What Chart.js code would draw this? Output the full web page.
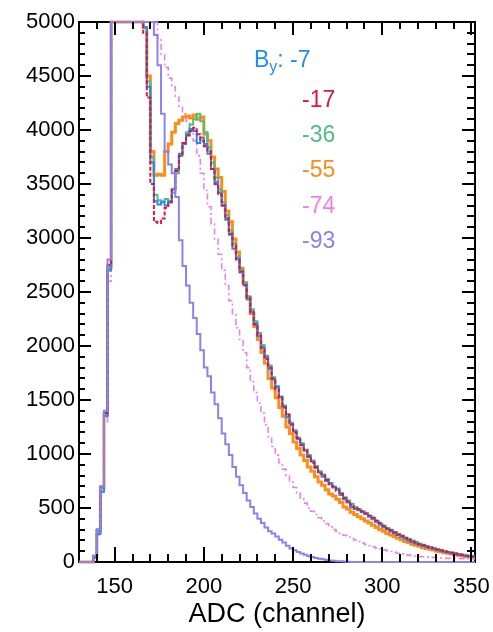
<!DOCTYPE html>
<html><head><meta charset="utf-8">
<script src="https://cdn.jsdelivr.net/npm/chart.js@4/dist/chart.umd.min.js"></script>
<style>html,body{margin:0;padding:0;background:#fff;}#wrap{width:493px;height:632px;position:relative;}</style>
</head><body><div id="wrap"><canvas id="c" width="493" height="632"></canvas></div>
<script>
// ADC bin starts (channel), bin width 2
const adcBins = [
130,132,134,136,138,140,142,144,146,148,
150,152,154,156,158,160,162,164,166,168,
170,172,174,176,178,180,182,184,186,188,
190,192,194,196,198,200,202,204,206,208,
210,212,214,216,218,220,222,224,226,228,
230,232,234,236,238,240,242,244,246,248,
250,252,254,256,258,260,262,264,266,268,
270,272,274,276,278,280,282,284,286,288,
290,292,294,296,298,300,302,304,306,308,
310,312,314,316,318,320,322,324,326,328,
330,332,334,336,338,340,342,344,346,348,
350];
const adcEnd = 352;

const byLabels = ['-7','-17','-36','-55','-74','-93'];

const counts_m7 = [
0,0,0,0,40,260,650,1350,2700,5000,
5000,5000,5000,5000,5000,5000,5000,5000,4950,4400,
3700,3340,3310,3330,3300,3340,3450,3640,3780,3870,
3960,4010,3990,3880,3930,3870,3780,3640,3520,3420,
3300,3170,3030,2900,2810,2680,2570,2430,2320,2210,
2090,1990,1900,1790,1690,1620,1530,1440,1340,1280,
1210,1140,1090,1030,970,930,870,830,790,750,
730,690,680,620,580,550,510,490,480,460,
445,420,395,370,345,325,305,285,265,250,
232,215,200,185,172,160,150,140,132,122,
112,104,96,88,82,75,68,62,55,50,
47];
const counts_m17 = [
0,0,0,0,50,300,700,1380,2750,5000,
5000,5000,5000,5000,5000,5000,5000,5000,4900,4300,
3500,3150,3140,3180,3280,3330,3460,3620,3760,3880,
3950,3990,4020,3960,3900,3850,3800,3640,3500,3400,
3300,3180,3040,2930,2800,2690,2560,2450,2310,2200,
2100,1980,1880,1800,1700,1600,1520,1430,1360,1270,
1200,1150,1080,1040,980,920,880,820,800,760,
720,700,660,630,590,560,530,500,490,470,
450,430,410,385,360,335,310,295,275,255,
240,222,205,192,180,165,155,142,135,125,
115,106,100,92,86,78,71,66,58,55,
50];
const counts_m36 = [
0,0,0,0,45,280,680,1360,2720,5000,
5000,5000,5000,5000,5000,5000,5000,5000,4950,4450,
3750,3400,3350,3340,3360,3330,3420,3600,3760,3880,
3980,4050,4100,4150,4080,3980,3840,3700,3560,3450,
3330,3210,3070,2950,2830,2710,2590,2460,2340,2230,
2120,2010,1910,1820,1710,1630,1530,1450,1370,1290,
1220,1150,1100,1040,990,940,890,840,810,770,
730,700,670,640,600,570,540,510,490,470,
455,425,405,380,355,335,315,298,278,262,
245,228,212,198,186,172,160,148,140,130,
118,110,101,95,88,80,74,68,62,56,
52];
const counts_m55 = [
0,0,0,0,50,290,690,1370,2730,5000,
5000,5000,5000,5000,5000,5000,5000,5000,4950,4500,
3800,3580,3590,3580,3800,3870,3980,4060,4090,4120,
4130,4110,4140,4100,4120,3960,3900,3750,3640,3560,
3430,3250,3150,2990,2870,2720,2580,2450,2300,2180,
2060,1940,1840,1700,1610,1520,1430,1350,1250,1190,
1110,1050,990,940,880,840,790,740,710,670,
630,610,580,550,510,490,460,440,420,400,
380,360,340,320,300,285,265,250,235,220,
205,190,180,165,155,145,135,125,118,110,
100,94,86,80,74,68,62,58,52,48,
44];
const counts_m74 = [
0,0,0,0,40,250,650,1300,2600,5000,
5000,5000,5000,5000,5000,5000,5000,5000,5000,5000,
5000,5000,4850,4700,4580,4480,4400,4310,4210,4150,
4080,4010,3900,3760,3600,3440,3290,3130,2990,2850,
2700,2560,2420,2300,2170,2060,1940,1800,1670,1570,
1470,1380,1270,1160,1070,990,920,860,800,740,
690,640,590,545,500,470,440,410,380,355,
325,300,282,265,248,232,218,204,190,176,
163,152,141,131,122,113,105,97,89,81,
75,69,64,59,55,51,48,45,43,41,
39,37,36,35,34,33,32,31,30,30,
29];
const counts_m93 = [
0,0,0,0,60,300,700,1400,2800,5000,
5000,5000,5000,5000,5000,5000,5000,5000,5000,5000,
5000,4880,4600,4150,3800,3680,3600,3380,2980,2740,
2560,2400,2260,2110,1960,1800,1720,1570,1460,1330,
1190,1090,990,880,790,710,640,570,510,450,
400,360,320,285,265,235,205,180,150,125,
108,92,78,66,54,46,38,31,25,19,
15,11,8,6,4,2,0,0,0,0,
0,0,0,0,0,0,0,0,0,0,
0,0,0,0,0,0,0,0,0,0,
0,0,0,0,0,0,0,0,0,0,
0];

const xLabelTicks = [150,200,250,300,350];
const yLabelTicks = [0,500,1000,1500,2000,2500,3000,3500,4000,4500,5000];

const colors = {'-7':'#1e8ff5','-17':'#e3123f','-36':'#4fbd84','-55':'#ff8c14','-74':'#ee80ee','-93':'#8a82f2'};

function pts(arr){
  const p = adcBins.map((x,i)=>({x:x, y:arr[i]}));
  p.push({x:adcEnd, y:arr[arr.length-1]});
  return p;
}
function makeSet(label, arr, width, dash){
  return {label:label, data:pts(arr), borderColor:colors[label], borderWidth:width,
    borderDash:dash||[], stepped:true, pointRadius:0, fill:false, clip:4};
}

const datasets = [
  makeSet('-93', counts_m93, 2),
  makeSet('-17', counts_m17, 2, [4,2]),
  makeSet('-7',  counts_m7, 2),
  makeSet('-36', counts_m36, 2),
  makeSet('-55', counts_m55, 3),
  makeSet('-74', counts_m74, 1.6, [6,3,2,3])
];

function drawTickMarks(chart){
  const ctx = chart.ctx, a = chart.chartArea;
  const sx = chart.scales.x, sy = chart.scales.y;
  ctx.save();
  ctx.globalAlpha = 1;
  ctx.globalCompositeOperation = 'source-over';
  ctx.fillStyle = '#000';
  for (let v=140; v<=350; v+=10){
    const px = Math.round(sx.getPixelForValue(v));
    const major = (v%50===0);
    const lb = major?15:8, lt = major?13:7;
    ctx.fillRect(px-1, a.bottom-lb, 2, lb);
    ctx.fillRect(px-1, a.top, 2, lt);
  }
  for (let v=100; v<5000; v+=100){
    const py = Math.round(sy.getPixelForValue(v));
    const major = (v%500===0);
    const ll = major?12:6, lr = major?13:8;
    ctx.fillRect(a.left, py-1, ll, 2);
    ctx.fillRect(a.right-lr, py-1, lr, 2);
  }
  ctx.restore();
}

const frameBox = {
  id:'frameBox',
  beforeDatasetsDraw(chart){
    const ctx = chart.ctx, a = chart.chartArea;
    ctx.save();
    ctx.setLineDash([]);
    ctx.strokeStyle='#000'; ctx.lineWidth=2;
    ctx.strokeRect(a.left, a.top, a.right-a.left, a.bottom-a.top);
    ctx.restore();
    drawTickMarks(chart);
  },
  afterDraw(chart){
    drawTickMarks(chart);
  }
};

const legendText = {
  id:'legendText',
  afterDraw(chart){
    const ctx = chart.ctx;
    ctx.save();
    ctx.textBaseline='middle'; ctx.textAlign='left';
    const f = '23px "Liberation Sans", Arial, sans-serif';
    ctx.fillStyle = colors['-7'];
    ctx.font = f;
    let xx = 254;
    ctx.fillText('B', xx, 61); xx += ctx.measureText('B').width;
    ctx.font = '16px "Liberation Sans", Arial, sans-serif';
    ctx.fillText('y', xx, 68); xx += ctx.measureText('y').width;
    ctx.font = f;
    ctx.fillText(': ' + byLabels[0], xx, 61);
    const ys = [101,136,171,207,242];
    for (let i=1;i<byLabels.length;i++){
      ctx.fillStyle = colors[byLabels[i]];
      ctx.fillText(byLabels[i], 302, ys[i-1]);
    }
    ctx.restore();
  }
};

const tickFont = {family:'"Liberation Sans", Arial, sans-serif', size:22};

new Chart(document.getElementById('c'), {
  type:'line',
  data:{datasets:datasets},
  options:{
    responsive:false, animation:false, devicePixelRatio:1,
    layout:{padding:{top:22,right:18,left:0,bottom:0}, autoPadding:false},
    plugins:{legend:{display:false}, tooltip:{enabled:false}},
    scales:{
      x:{type:'linear', min:130, max:adcEnd,
        grid:{display:false, drawTicks:false}, border:{display:false},
        afterBuildTicks:s=>{ s.ticks = xLabelTicks.map(v=>({value:v})); },
        afterFit:s=>{ s.height = 70; s.paddingLeft = 0; s.paddingRight = 0; },
        ticks:{font:tickFont, color:'#000', padding:12, maxRotation:0, autoSkip:false,
          callback:v=>String(v)},
        title:{display:true, text:'ADC (channel)', color:'#000',
          font:{family:'"Liberation Sans", Arial, sans-serif', size:27}, padding:{top:0,bottom:1}}
      },
      y:{type:'linear', min:0, max:5000,
        grid:{display:false, drawTicks:false}, border:{display:false},
        afterBuildTicks:s=>{ s.ticks = yLabelTicks.map(v=>({value:v})); },
        afterFit:s=>{ s.width = 79; s.paddingTop = 0; s.paddingBottom = 0; },
        ticks:{font:tickFont, color:'#000', padding:4, autoSkip:false,
          callback:v=>String(v)}
      }
    }
  },
  plugins:[frameBox, legendText]
});
</script>
</body></html>
